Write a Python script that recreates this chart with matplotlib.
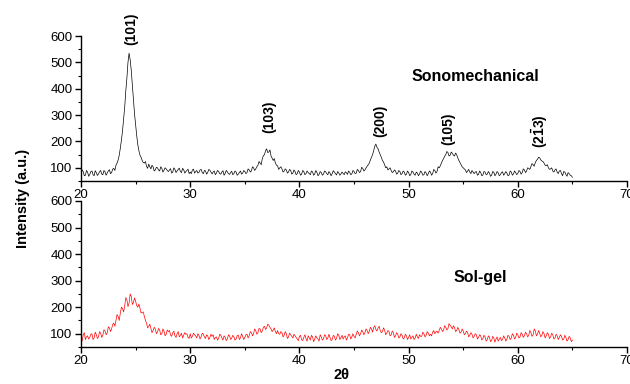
import numpy as np
import matplotlib
matplotlib.use("Agg")
import matplotlib.pyplot as plt
from matplotlib.ticker import MultipleLocator

plt.rcParams['font.family'] = ['Liberation Sans', 'DejaVu Sans']
plt.rcParams['mathtext.fontset'] = 'custom'
plt.rcParams['mathtext.bf'] = 'Liberation Sans:bold'
plt.rcParams['mathtext.rm'] = 'Liberation Sans:bold'

fontsize = 9.5

# Sonomechanical (black)
# values at 20.0, 20.2, ..., 65.0
sono_even = [
    78, 86, 72, 84, 75, 88, 70, 82, 77, 90,
    74, 85, 80, 93, 82, 98, 110, 130, 175, 240,
    330, 440, 535, 470, 360, 262, 188, 148, 128, 118,
    106, 114, 96, 104, 92, 100, 88, 98, 91, 96,
    86, 97, 84, 94, 88, 99, 82, 93, 86, 95,
    84, 92, 80, 90, 83, 94, 78, 88, 82, 91,
    77, 88, 80, 86, 76, 89, 79, 85, 75, 87,
    78, 84, 76, 88, 80, 86, 82, 92, 88, 100,
    96, 110, 118, 135, 150, 172, 160, 145, 128, 118,
    108, 100, 96, 88, 92, 84, 90, 80, 86, 78,
    84, 76, 86, 78, 82, 74, 85, 77, 83, 75,
    82, 76, 85, 74, 80, 78, 84, 73, 81, 77,
    79, 85, 75, 83, 77, 86, 80, 90, 86, 98,
    92, 106, 118, 140, 165, 190, 172, 150, 128, 112,
    104, 96, 90, 85, 88, 80, 86, 78, 84, 76,
    82, 75, 84, 72, 80, 77, 83, 74, 81, 78,
    84, 78, 90, 86, 100, 118, 135, 150, 158, 148,
    155, 145, 150, 128, 112, 100, 92, 88, 84, 90,
    78, 86, 75, 82, 73, 84, 76, 80, 72, 83,
    76, 81, 74, 85, 78, 80, 73, 84, 77, 82,
    79, 86, 82, 92, 88, 98, 105, 112, 120, 132,
    138, 126, 118, 108, 100, 96, 88, 92, 84, 88,
    78, 86, 75, 82, 72, 64,
]
# values at 20.1, 20.3, ..., 64.9
sono_odd = [
    92, 70, 90, 68, 86, 74, 89, 71, 85, 76,
    90, 72, 88, 78, 95, 90, 118, 148, 205, 285,
    392, 500, 510, 415, 305, 222, 165, 140, 120, 124,
    98, 104, 110, 88, 102, 92, 104, 84, 100, 90,
    92, 80, 100, 82, 94, 86, 98, 80, 90, 78,
    78, 95, 86, 80, 92, 82, 90, 76, 94, 84,
    84, 74, 90, 78, 84, 72, 90, 78, 82, 74,
    88, 72, 82, 76, 90, 78, 96, 84, 104, 90,
    104, 124, 112, 146, 165, 158, 168, 136, 135, 110,
    94, 104, 84, 96, 80, 94, 76, 92, 74, 90,
    72, 90, 74, 88, 78, 88, 72, 90, 70, 86,
    72, 88, 78, 86, 70, 89, 78, 86, 72, 84,
    74, 82, 88, 74, 90, 78, 94, 82, 102, 88,
    100, 112, 130, 150, 182, 178, 160, 140, 122, 100,
    92, 100, 82, 92, 76, 90, 74, 88, 72, 88,
    70, 88, 76, 84, 70, 88, 72, 86, 70, 88,
    72, 94, 80, 104, 108, 128, 144, 162, 145, 160,
    148, 156, 138, 120, 104, 96, 82, 94, 78, 84,
    84, 72, 88, 70, 86, 74, 86, 68, 86, 70,
    86, 70, 82, 72, 86, 70, 88, 72, 88, 74,
    90, 76, 96, 82, 100, 94, 116, 106, 128, 140,
    130, 124, 110, 112, 94, 100, 84, 96, 78, 90,
    70, 84, 68, 78, 70,
]

# Sol-gel (red)
solgel_even = [
    82, 95, 78, 92, 86, 100, 84, 97, 88, 102,
    95, 110, 104, 122, 118, 140, 150, 165, 178, 195,
    205, 228, 215, 240, 218, 222, 200, 196, 180, 165,
    140, 128, 120, 112, 118, 106, 114, 100, 110, 98,
    108, 95, 104, 92, 100, 88, 102, 94, 98, 86,
    100, 90, 96, 84, 94, 88, 98, 82, 92, 86,
    90, 78, 88, 82, 94, 76, 86, 80, 92, 84,
    88, 80, 95, 84, 90, 86, 98, 92, 104, 100,
    112, 104, 118, 110, 128, 122, 132, 118, 114, 108,
    112, 98, 104, 94, 100, 88, 96, 84, 92, 80,
    90, 78, 86, 82, 92, 76, 88, 80, 84, 72,
    88, 80, 92, 84, 86, 78, 90, 82, 94, 86,
    80, 92, 84, 96, 88, 90, 98, 104, 100, 108,
    104, 112, 110, 118, 124, 116, 122, 112, 108, 114,
    102, 108, 96, 104, 92, 98, 88, 94, 84, 92,
    86, 80, 92, 84, 88, 96, 90, 100, 94, 102,
    98, 106, 100, 110, 112, 118, 114, 124, 120, 132,
    118, 124, 112, 116, 106, 110, 100, 104, 94, 98,
    90, 96, 86, 92, 82, 88, 78, 86, 74, 84,
    80, 72, 86, 78, 84, 80, 90, 84, 94, 86,
    96, 88, 98, 92, 100, 94, 104, 96, 110, 98,
    102, 94, 100, 92, 98, 88, 96, 84, 92, 86,
    90, 80, 86, 78, 84, 76,
]
solgel_odd = [
    72, 104, 88, 80, 98, 78, 106, 82, 108, 86,
    115, 96, 126, 108, 135, 128, 172, 150, 200, 182,
    236, 202, 250, 210, 235, 206, 212, 178, 182, 150,
    122, 136, 104, 124, 100, 120, 96, 118, 92, 114,
    112, 90, 110, 86, 108, 94, 84, 104, 100, 82,
    84, 102, 92, 100, 80, 102, 88, 96, 78, 98,
    96, 86, 76, 98, 84, 92, 74, 96, 78, 94,
    76, 92, 78, 100, 78, 96, 84, 108, 92, 118,
    98, 120, 104, 124, 116, 136, 124, 108, 122, 100,
    100, 108, 88, 108, 82, 102, 90, 98, 86, 74,
    94, 74, 96, 72, 84, 94, 70, 92, 80, 96,
    76, 96, 78, 98, 74, 94, 76, 100, 78, 94,
    88, 76, 98, 80, 100, 84, 110, 92, 114, 96,
    118, 100, 124, 106, 130, 110, 128, 104, 122, 96,
    112, 92, 110, 86, 104, 84, 100, 80, 98, 78,
    96, 86, 78, 98, 82, 90, 106, 88, 108, 92,
    92, 112, 106, 102, 124, 108, 130, 114, 138, 126,
    130, 108, 124, 102, 118, 96, 110, 88, 104, 84,
    100, 80, 96, 76, 94, 72, 92, 70, 90, 68,
    88, 80, 74, 92, 72, 94, 78, 100, 80, 102,
    84, 104, 86, 106, 88, 112, 90, 118, 92, 112,
    88, 108, 84, 104, 82, 102, 80, 98, 78, 96,
    76, 94, 72, 90, 70,
]

# peak labels (Miller indices)
peak_labels = ["(101)", "(103)", "(200)", "(105)", r"(2$\bar{\mathbf{1}}$3)"]
peak_pos = [24.6, 37.2, 47.4, 53.6, 62.0]
peak_label_y = [565, 233, 217, 187, 176]


def interleave(even, odd):
    out = np.empty(len(even) + len(odd))
    out[0::2] = even
    out[1::2] = odd
    return out


two_theta = np.linspace(20, 65, len(sono_even) + len(sono_odd))
sono = interleave(sono_even, sono_odd)
solgel = interleave(solgel_even, solgel_odd)

fig = plt.figure(figsize=(6.3, 3.84), dpi=100)
ax1 = fig.add_axes([0.1286, 0.5286, 0.8667, 0.3776])
ax2 = fig.add_axes([0.1286, 0.0964, 0.8667, 0.3802])

ax1.plot(two_theta, sono, color="black", linewidth=0.5)
ax2.plot(two_theta, solgel, color="red", linewidth=0.5)

for ax in (ax1, ax2):
    ax.set_xlim(20, 70)
    ax.set_ylim(50, 600)
    ax.xaxis.set_major_locator(MultipleLocator(10))
    ax.xaxis.set_minor_locator(MultipleLocator(5))
    ax.yaxis.set_major_locator(MultipleLocator(100))
    ax.yaxis.set_minor_locator(MultipleLocator(50))
    ax.spines['right'].set_color('none')
    ax.spines['top'].set_color('none')
    ax.spines['left'].set_linewidth(1.0)
    ax.spines['bottom'].set_linewidth(1.0)
    ax.tick_params(which="major", direction="out", length=4, width=1, labelsize=fontsize, pad=2)
    ax.tick_params(which="minor", direction="out", length=2.5, width=0.8)
    ax.set_facecolor("none")

for lab, xp, yp in zip(peak_labels, peak_pos, peak_label_y):
    ax1.text(xp, yp, lab, rotation=90, ha="center", va="bottom",
             fontsize=10, fontweight="bold", clip_on=False)

ax1.text(56.1, 445, "Sonomechanical", ha="center", va="center", fontsize=11.5, fontweight="bold")
ax2.text(56.6, 312, "Sol-gel", ha="center", va="center", fontsize=11.5, fontweight="bold")

fig.text(23 / 630, 1 - 198 / 384, "Intensity (a.u.)", rotation=90, ha="center", va="center",
         fontsize=10.5, fontweight="bold")
fig.text(342 / 630, 2 / 384, "2θ", ha="center", va="bottom", fontsize=10.5, fontweight="bold")

plt.savefig("out.png", dpi=100)
